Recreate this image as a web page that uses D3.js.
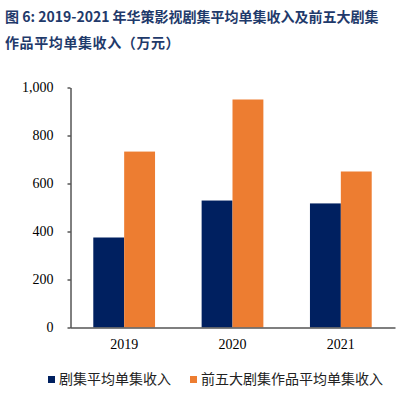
<!DOCTYPE html>
<head>
<meta charset="utf-8">
<title>chart</title>
<script src="https://cdn.jsdelivr.net/npm/d3@7"></script>
<style>
body { margin: 0; background: #fff; }
.axis text { font: 14px "Liberation Serif", serif; fill: #000; }
</style>
</head>
<body>
<script>
// values (万元)
var years = ["2019", "2020", "2021"];
var seriesNames = ["剧集平均单集收入", "前五大剧集作品平均单集收入"];
var avgIncome = [375, 529, 517];
var top5Income = [733, 950, 650];
var yTicks = [0, 200, 400, 600, 800, 1000];
var colors = ["#002060", "#ED7D31"];

var width = 408, height = 396;

var svg = d3.select("body").append("svg")
    .attr("width", width)
    .attr("height", height);

// title
var title = svg.append("text")
    .attr("fill", "#1F3A6B")
    .style("font", "bold 14px 'Noto Sans CJK SC', sans-serif");
title.append("tspan").attr("x", 5).attr("y", 22)
    .text("图 6: 2019-2021 年华策影视剧集平均单集收入及前五大剧集");
title.append("tspan").attr("x", 5).attr("y", 48)
    .style("letter-spacing", "0.6px")
    .text("作品平均单集收入（万元）");

var x0 = d3.scaleBand()
    .domain(years)
    .range([70, 395])
    .paddingInner(0.43)
    .paddingOuter(0.215);

var x1 = d3.scaleBand()
    .domain([0, 1])
    .range([0, x0.bandwidth()]);

var y = d3.scaleLinear()
    .domain([0, 1000])
    .range([327.5, 87.5]);

var data = years.map(function(yr, i) {
    return { year: yr, vals: [avgIncome[i], top5Income[i]] };
});

// bars
var groups = svg.selectAll(".grp")
    .data(data)
    .enter().append("g")
    .attr("transform", function(d) { return "translate(" + x0(d.year) + ",0)"; });

groups.selectAll("rect")
    .data(function(d) { return d.vals; })
    .enter().append("rect")
    .attr("x", function(d, i) { return x1(i); })
    .attr("y", function(d) { return y(d); })
    .attr("width", x1.bandwidth())
    .attr("height", function(d) { return y(0) - y(d); })
    .style("fill", function(d, i) { return colors[i]; });

// y axis
var yAxis = svg.append("g")
    .attr("class", "axis")
    .attr("transform", "translate(70.5,0)")
    .call(d3.axisLeft(y).tickValues(yTicks).tickSize(3).tickSizeOuter(0)
        .tickFormat(d3.format(",")));
yAxis.select(".domain").attr("stroke", "#000");
yAxis.selectAll(".tick line").attr("stroke", "#000");
yAxis.selectAll("text").attr("x", -17);

// baseline / x axis
var xAxis = svg.append("g")
    .attr("class", "axis")
    .attr("transform", "translate(0," + y(0) + ")")
    .call(d3.axisBottom(x0).tickSize(0).tickSizeOuter(0));
xAxis.select(".domain").attr("stroke", "#555").attr("stroke-width", 1.5);
xAxis.selectAll("text").attr("dy", "1.3em");

// legend
var legendX = [48, 190];
var legend = svg.selectAll(".lg")
    .data(seriesNames)
    .enter().append("g")
    .attr("transform", function(d, i) { return "translate(" + legendX[i] + ",376)"; });
legend.append("rect")
    .attr("width", 7).attr("height", 7)
    .style("fill", function(d, i) { return colors[i]; });
legend.append("text")
    .attr("x", 11).attr("y", 8)
    .style("font", "14px 'Noto Sans CJK SC', sans-serif")
    .attr("fill", "#222")
    .text(function(d) { return d; });
</script>
</body>
